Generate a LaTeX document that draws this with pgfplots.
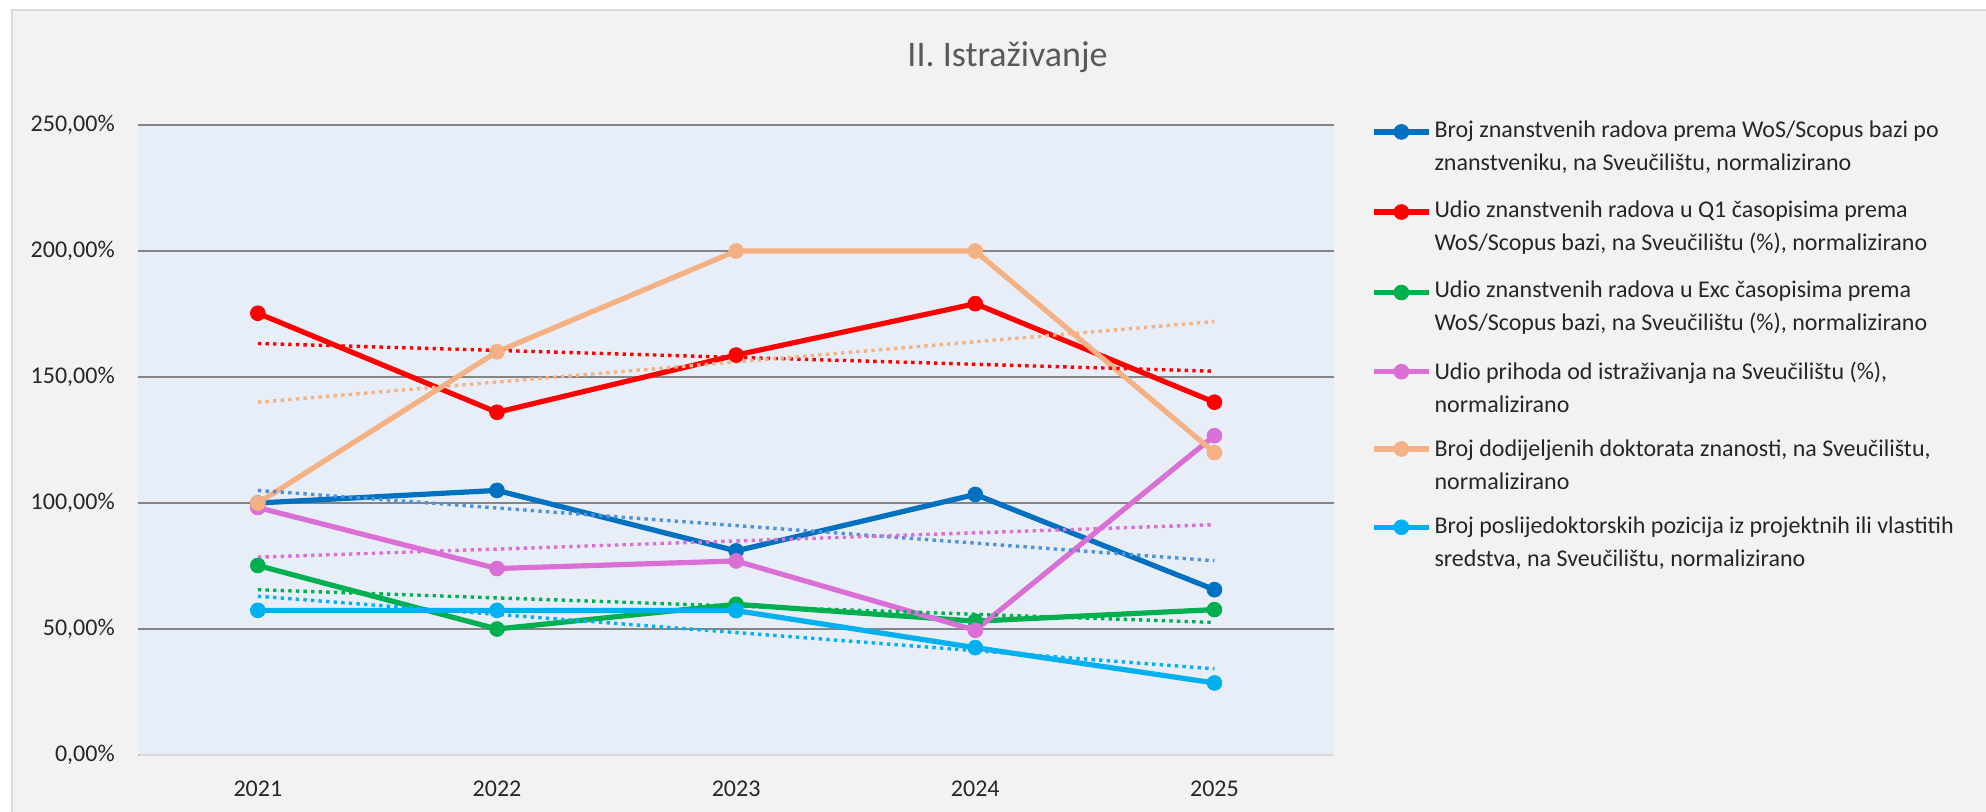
\documentclass[border=0pt]{standalone}
\usepackage{fontspec}
\setmainfont{Carlito}
\usepackage{pgfplots}
\pgfplotsset{compat=1.18}

\definecolor{cBlue}{HTML}{0070C0}
\definecolor{cBlueTr}{HTML}{4F92DA}
\definecolor{cRed}{HTML}{FF0000}
\definecolor{cGreen}{HTML}{00B050}
\definecolor{cPink}{HTML}{DA70D6}
\definecolor{cOrange}{HTML}{F4B183}
\definecolor{cCyan}{HTML}{00B0F0}
\definecolor{bgOuter}{HTML}{F2F2F2}
\definecolor{frameGray}{HTML}{D9D9D9}
\definecolor{plotBg}{HTML}{E7EEF8}
\definecolor{gridGray}{HTML}{858585}
\definecolor{titleGray}{HTML}{595959}
\definecolor{tickText}{HTML}{262626}

\pgfplotsset{
  ser/.style={color=#1, line width=2.6pt, mark=*, mark size=3.7pt,
    mark options={solid, fill=#1, draw=#1, line width=0.4pt}},
  trend/.style={color=#1, line width=1.7pt, line cap=butt,
    dash pattern=on 1.7pt off 2.1pt, forget plot},
}

\begin{document}
\begin{tikzpicture}
\path[use as bounding box] (0,0) rectangle (993pt,405.5pt);
\fill[white] (0,0) rectangle (993pt,405.5pt);
\filldraw[fill=bgOuter, draw=frameGray, line width=0.75pt] (6pt,-10pt) rectangle (1003pt,400.5pt);
\node[anchor=base, font=\fontsize{18}{22}\selectfont, text=titleGray] at (503.75pt,372.5pt) {II. Istraživanje};

\begin{axis}[
  at={(69.15pt,28pt)}, anchor=south west,
  width=597.85pt, height=315pt, scale only axis,
  xmin=-0.5, xmax=4.5, ymin=0, ymax=250,
  xtick={0,...,4}, xticklabels={2021,2022,2023,2024,2025},
  ytick={0,50,...,250},
  yticklabels={{0,00\%},{50,00\%},{100,00\%},{150,00\%},{200,00\%},{250,00\%}},
  major tick length=0pt,
  axis line style={draw=none},
  ymajorgrids, grid style={draw=gridGray, line width=1pt},
  axis background/.style={fill=plotBg},
  tick label style={font=\fontsize{12}{14}\selectfont, text=tickText},
  xticklabel style={anchor=north, inner sep=0pt, yshift=-12.7pt},
  yticklabel style={anchor=east, inner sep=0pt, xshift=-11.6pt},
  legend cell align=left,
  legend style={at={(1.0312,1.0063)}, anchor=north west,
    draw=none, fill=none, inner sep=0pt, outer sep=0pt,
    column sep=1.5pt, row sep=13.5pt,
    font=\fontsize{12}{16.5}\selectfont,
    nodes={inner sep=0pt, align=left, text depth={}, text=tickText}},
  legend image code/.code={
    \path[draw=none, fill=none] (0pt,-11.5pt) rectangle (27.5pt,11.5pt);
    \draw[mark repeat=2, mark phase=2, #1] plot coordinates {(0pt,7.75pt) (13.75pt,7.75pt) (27.5pt,7.75pt)};
  },
]
% light baseline over the 0 gridline
\draw[frameGray, line width=1pt] (axis cs:-0.5,0) -- (axis cs:4.5,0);

\addplot[ser=cBlue] coordinates {(0,100) (1,105) (2,81) (3,103.4) (4,65.6)};
\addlegendentry{Broj znanstvenih radova prema WoS/Scopus bazi po\\znanstveniku, na Sveučilištu, normalizirano}
\addplot[ser=cRed] coordinates {(0,175.3) (1,136) (2,158.7) (3,179.1) (4,140)};
\addlegendentry{Udio znanstvenih radova u Q1 časopisima prema\\WoS/Scopus bazi, na Sveučilištu (\%), normalizirano}
\addplot[ser=cGreen] coordinates {(0,75.2) (1,50) (2,59.8) (3,53.1) (4,57.7)};
\addlegendentry{Udio znanstvenih radova u Exc časopisima prema\\WoS/Scopus bazi, na Sveučilištu (\%), normalizirano}
\addplot[ser=cPink] coordinates {(0,98.2) (1,74) (2,77) (3,49.5) (4,126.7)};
\addlegendentry{Udio prihoda od istraživanja na Sveučilištu (\%),\\normalizirano}
\addplot[ser=cOrange] coordinates {(0,100) (1,160) (2,200) (3,200) (4,120)};
\addlegendentry{Broj dodijeljenih doktorata znanosti, na Sveučilištu,\\normalizirano}
\addplot[ser=cCyan] coordinates {(0,57.4) (1,57.4) (2,57.3) (3,42.6) (4,28.6)};
\addlegendentry{Broj poslijedoktorskih pozicija iz projektnih ili vlastitih\\sredstva, na Sveučilištu, normalizirano}

% linear trend lines (end points)
\addplot[trend=cBlueTr] coordinates {(0,105.0) (4,77.1)};
\addplot[trend=cRed] coordinates {(0,163.3) (4,152.3)};
\addplot[trend=cGreen] coordinates {(0,65.6) (4,52.6)};
\addplot[trend=cPink] coordinates {(0,78.5) (4,91.4)};
\addplot[trend=cOrange] coordinates {(0,140) (4,172)};
\addplot[trend=cCyan] coordinates {(0,63.0) (4,34.2)};
\end{axis}
\end{tikzpicture}
\end{document}
